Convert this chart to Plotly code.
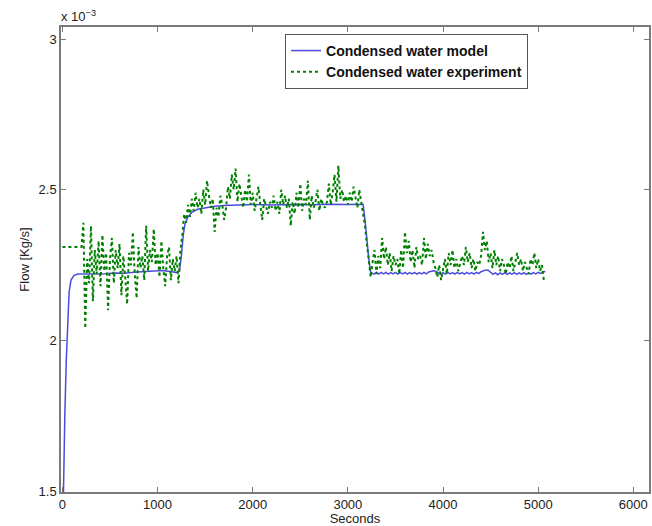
import numpy as np
import plotly.graph_objects as go

# flow values are in units of 1e-3 kg/s (axis shows "x 10^-3")

# model: start-up ramp, step up, plateau, step down
ramp_t = [0, 10, 25, 40, 55, 70, 90, 120, 160, 250, 350, 450, 550, 650,
          750, 850, 950, 1050, 1150, 1200, 1230, 1250, 1270, 1290, 1320,
          1360, 1420, 1500, 1600, 1700, 1850, 2000, 2200, 2400, 2600, 2800,
          3000, 3160, 3180, 3200, 3220, 3240]
ramp_v = [1.30, 1.50, 1.75, 1.93, 2.07, 2.16, 2.20, 2.215, 2.220, 2.220,
          2.222, 2.221, 2.224, 2.223, 2.226, 2.228, 2.230, 2.232, 2.228,
          2.225, 2.230, 2.280, 2.350, 2.390, 2.410, 2.425, 2.435, 2.440,
          2.445, 2.448, 2.450, 2.451, 2.449, 2.451, 2.450, 2.452, 2.451,
          2.452, 2.400, 2.330, 2.270, 2.225]

# model after step down, every 25 s from 3250 s
tail_v = [2.224, 2.220, 2.226, 2.220, 2.226, 2.221, 2.226, 2.220, 2.225, 2.221,
          2.226, 2.220, 2.225, 2.221, 2.226, 2.220, 2.225, 2.221, 2.226, 2.220,
          2.225, 2.221, 2.226, 2.221, 2.227, 2.229, 2.231, 2.230, 2.224, 2.219,
          2.225, 2.220, 2.226, 2.221, 2.225, 2.220, 2.226, 2.221, 2.225, 2.220,
          2.226, 2.221, 2.225, 2.220, 2.226, 2.222, 2.228, 2.232, 2.234, 2.233,
          2.226, 2.219, 2.224, 2.218, 2.224, 2.219, 2.225, 2.219, 2.224, 2.220,
          2.225, 2.219, 2.224, 2.220, 2.225, 2.219, 2.224, 2.220, 2.225, 2.221,
          2.226, 2.222, 2.227, 2.229]
tail_t = list(range(3250, 3250 + 25 * len(tail_v), 25))

model_t = ramp_t + tail_t
model_v = ramp_v + tail_v

# experiment, sampled every 20 s from 0 s
exp_v = [
    2.31, 2.31, 2.31, 2.31, 2.31, 2.31, 2.31, 2.31, 2.31, 2.31,
    2.31, 2.39, 2.04, 2.27, 2.19, 2.38, 2.13, 2.30, 2.22, 2.33,
    2.18, 2.35, 2.23, 2.29, 2.10, 2.27, 2.34, 2.19, 2.30, 2.24,
    2.32, 2.15, 2.28, 2.21, 2.12, 2.29, 2.25, 2.36, 2.22, 2.14,
    2.31, 2.24, 2.28, 2.20, 2.38, 2.23, 2.30, 2.26, 2.37, 2.25,
    2.29, 2.21, 2.33, 2.24, 2.18, 2.28, 2.31, 2.20, 2.27, 2.23,
    2.28, 2.19, 2.30, 2.35, 2.42, 2.39, 2.45, 2.41, 2.47, 2.43,
    2.49, 2.44, 2.47, 2.42, 2.50, 2.45, 2.53, 2.48, 2.44, 2.47,
    2.36, 2.44, 2.41, 2.48, 2.45, 2.40, 2.44, 2.51, 2.47, 2.55,
    2.50, 2.57, 2.46, 2.52, 2.48, 2.44, 2.50, 2.46, 2.55, 2.45,
    2.49, 2.43, 2.47, 2.51, 2.45, 2.40, 2.47, 2.44, 2.42, 2.46,
    2.44, 2.48, 2.43, 2.46, 2.42, 2.50, 2.45, 2.48, 2.44, 2.47,
    2.38, 2.46, 2.42, 2.49, 2.44, 2.52, 2.43, 2.47, 2.45, 2.53,
    2.40, 2.48, 2.44, 2.46, 2.50, 2.43, 2.47, 2.45, 2.44, 2.46,
    2.52, 2.45, 2.49, 2.55, 2.46, 2.58, 2.47, 2.50, 2.46, 2.48,
    2.45, 2.49, 2.46, 2.51, 2.47, 2.44, 2.50, 2.46, 2.43, 2.38,
    2.32, 2.27, 2.21, 2.26, 2.30, 2.22, 2.28, 2.24, 2.34, 2.27,
    2.31, 2.25, 2.29, 2.23, 2.28, 2.25, 2.27, 2.22, 2.30, 2.24,
    2.36, 2.29, 2.33, 2.26, 2.30, 2.24, 2.31, 2.27, 2.28, 2.25,
    2.34, 2.27, 2.32, 2.28, 2.30, 2.26, 2.24, 2.21, 2.25, 2.20,
    2.23, 2.27, 2.22, 2.29, 2.25, 2.30, 2.24, 2.27, 2.23, 2.26,
    2.28, 2.25, 2.31, 2.26, 2.29, 2.24, 2.27, 2.23, 2.26, 2.25,
    2.28, 2.36, 2.30, 2.33, 2.26, 2.29, 2.24, 2.30, 2.25, 2.28,
    2.23, 2.27, 2.25, 2.22, 2.26, 2.24, 2.28, 2.23, 2.26, 2.29,
    2.25, 2.27, 2.23, 2.26, 2.24, 2.22, 2.27, 2.25, 2.29, 2.24,
    2.27, 2.23, 2.25, 2.20]
exp_t = list(range(0, 20 * len(exp_v), 20))

x_ticks = [0, 1000, 2000, 3000, 4000, 5000, 6000]
y_ticks = [1.5, 2, 2.5, 3]
y_tick_text = ['1.5', '2', '2.5', '3']

#---------

fig = go.Figure()

fig.add_trace(go.Scatter(
    x=model_t, y=model_v,
    mode='lines',
    name='<b>Condensed water model</b>',
    line={'color': 'rgb(75,75,225)', 'width': 1.5}))

fig.add_trace(go.Scatter(
    x=exp_t, y=exp_v,
    mode='lines',
    name='<b>Condensed water experiment</b>',
    line={'color': 'rgb(0,128,0)', 'width': 2, 'dash': 'dot'}))

axis_style = dict(
    showline=True, linecolor='#7a7a7a', linewidth=1.5,
    mirror='ticks', ticks='inside', ticklen=5,
    tickcolor='#7a7a7a', tickwidth=1,
    showgrid=False, zeroline=False,
    tickfont=dict(size=13, color='#222'))

fig.update_xaxes(range=[-15, 6165], tickvals=x_ticks, tickformat='d',
                 title=dict(text='Seconds', standoff=2,
                            font=dict(size=13, color='#222')),
                 **axis_style)
fig.update_yaxes(range=[1.497, 3.04], tickvals=y_ticks, ticktext=y_tick_text,
                 title=dict(text='Flow [Kg/s]', standoff=6,
                            font=dict(size=13, color='#222')),
                 **axis_style)

fig.add_annotation(
    x=0, y=1, xref='paper', yref='paper',
    xanchor='left', yanchor='bottom', yshift=1, xshift=-2,
    text='x 10<sup>\u22123</sup>', showarrow=False,
    font=dict(size=13, color='#222'))

fig.update_layout(
    width=652, height=526,
    margin=dict(l=61, r=1, t=27, b=34),
    plot_bgcolor='white', paper_bgcolor='white',
    font=dict(family='Liberation Sans, Arial, sans-serif', size=13,
              color='#222'),
    legend=dict(x=0.381, y=0.985, xanchor='left', yanchor='top',
                bgcolor='white', bordercolor='#555', borderwidth=1,
                font=dict(size=14, color='#111'),
                tracegroupgap=0, itemwidth=30),
    showlegend=True)

# page body has a default 8px margin; drop it so the figure fills the window
fig.write_html("out.html",
               config={'displayModeBar': False},
               post_script="document.body.style.margin='0';")
